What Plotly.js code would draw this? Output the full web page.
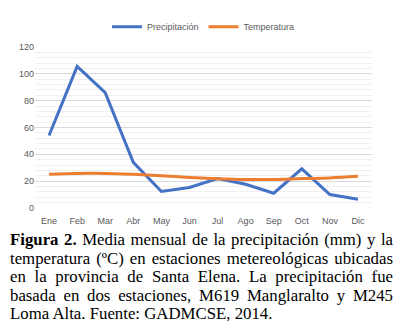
<!DOCTYPE html>
<html>
<head>
<meta charset="utf-8">
<script src="https://cdn.plot.ly/plotly-3.0.1.min.js"></script>
<style>
  body { margin: 0; background: #fff; width: 404px; height: 332px; overflow: hidden; }
  #chart { width: 404px; height: 230px; }
  #caption {
    font-family: "Liberation Serif", "Times New Roman", serif;
    font-size: 16.8px; line-height: 18.6px; color: #000;
    text-align: justify; margin: 1px 11px 0 10px;
  }
</style>
</head>
<body>
<div id="chart"></div>
<div id="caption"><b>Figura 2.</b><span> Media mensual de la precipitación (mm) y la temperatura (ºC) en estaciones metereológicas ubicadas en la provincia de Santa Elena. La precipitación fue basada en dos estaciones, M619 Manglaralto y M245 Loma Alta. Fuente: GADMCSE, 2014.</span></div>
<script>
const months = ['Ene', 'Feb', 'Mar', 'Abr', 'May', 'Jun', 'Jul', 'Ago', 'Sep', 'Oct', 'Nov', 'Dic'];
const precipitacion = [54, 105.5, 86, 34, 12.3, 15.3, 22, 17.7, 11, 29.2, 10, 6.5];
const temperatura = [25.2, 25.8, 25.8, 25.1, 24.1, 22.8, 21.8, 21.2, 21.3, 21.9, 22.4, 23.6];

const data = [
  {
    x: months, y: precipitacion, name: 'Precipitación',
    type: 'scatter', mode: 'lines',
    line: { color: '#4472C4', width: 3 }
  },
  {
    x: months, y: temperatura, name: 'Temperatura',
    type: 'scatter', mode: 'lines',
    line: { color: '#ED7D31', width: 3, shape: 'spline' }
  }
];

const layout = {
  width: 404, height: 230,
  margin: { l: 35, r: 32, t: 41, b: 22 },
  paper_bgcolor: '#fff', plot_bgcolor: '#fff',
  font: { family: 'Liberation Sans, Arial, sans-serif', size: 9, color: '#595959' },
  showlegend: true,
  legend: {
    orientation: 'h', x: 0.5, xanchor: 'center', y: 1.126, yanchor: 'middle',
    font: { size: 9, color: '#595959' }
  },
  xaxis: {
    showgrid: false, zeroline: false, showline: false, ticks: '',
    range: [-0.5, 11.5], ticklabelstandoff: 6
  },
  yaxis: {
    range: [0, 120], dtick: 20, showline: false, zeroline: false, ticks: '',
    gridcolor: '#d9d9d9', gridwidth: 1,
    minor: { dtick: 4, showgrid: true, gridcolor: '#f0f0f0', gridwidth: 1 }
  }
};

Plotly.newPlot('chart', data, layout, { displayModeBar: false, staticPlot: true });
</script>
</body>
</html>
